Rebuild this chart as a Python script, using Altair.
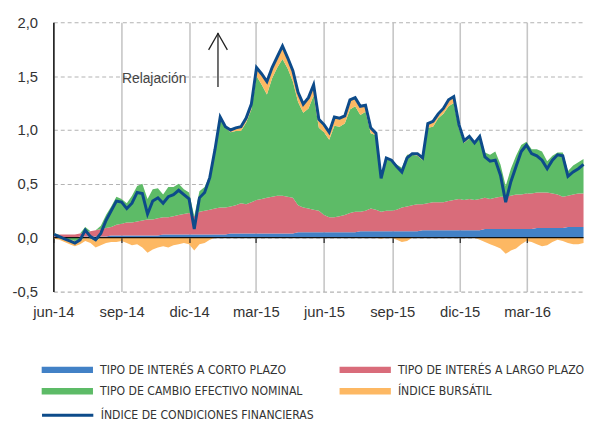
import altair as alt
import pandas as pd

n = 103
fechas = pd.date_range("2014-06-02", periods=n, freq="7D")

corto = [
    0.00, 0.00, 0.00, 0.00, 0.00, 0.01, 0.01, 0.01, 0.01, 0.01,
    0.01, 0.02, 0.02, 0.02, 0.02, 0.02, 0.02, 0.02, 0.02, 0.02,
    0.02, 0.03, 0.03, 0.03, 0.03, 0.03, 0.03, 0.03, 0.03, 0.03,
    0.03, 0.03, 0.03, 0.03, 0.04, 0.04, 0.04, 0.04, 0.04, 0.04,
    0.04, 0.04, 0.04, 0.04, 0.04, 0.04, 0.04, 0.05, 0.05, 0.05,
    0.05, 0.05, 0.05, 0.05, 0.05, 0.05, 0.05, 0.05, 0.05, 0.06,
    0.06, 0.06, 0.06, 0.06, 0.06, 0.06, 0.06, 0.06, 0.06, 0.06,
    0.06, 0.07, 0.07, 0.07, 0.07, 0.07, 0.07, 0.07, 0.07, 0.07,
    0.07, 0.07, 0.07, 0.08, 0.08, 0.08, 0.08, 0.08, 0.08, 0.08,
    0.08, 0.08, 0.08, 0.09, 0.09, 0.09, 0.09, 0.09, 0.09, 0.10,
    0.10, 0.10, 0.10,
]
largo = [
    0.02, 0.03, 0.03, 0.03, 0.03, 0.03, 0.04, 0.05, 0.06, 0.07,
    0.08, 0.08, 0.10, 0.11, 0.12, 0.12, 0.13, 0.14, 0.15, 0.15,
    0.16, 0.16, 0.16, 0.17, 0.18, 0.19, 0.20, 0.17, 0.21, 0.22,
    0.23, 0.24, 0.25, 0.25, 0.25, 0.26, 0.28, 0.27, 0.29, 0.31,
    0.32, 0.33, 0.34, 0.35, 0.35, 0.34, 0.33, 0.25, 0.23, 0.22,
    0.21, 0.20, 0.16, 0.14, 0.14, 0.15, 0.16, 0.18, 0.19, 0.18,
    0.19, 0.21, 0.20, 0.18, 0.19, 0.19, 0.20, 0.22, 0.23, 0.24,
    0.25, 0.24, 0.25, 0.26, 0.26, 0.26, 0.27, 0.28, 0.29, 0.28,
    0.29, 0.28, 0.29, 0.29, 0.28, 0.29, 0.30, 0.30, 0.31, 0.32,
    0.32, 0.33, 0.33, 0.33, 0.33, 0.33, 0.32, 0.31, 0.29, 0.29,
    0.30, 0.31, 0.31,
]
cambio = [
    0.02, 0.00, -0.01, -0.02, -0.03, -0.02, 0.05, -0.01, -0.03, 0.03,
    0.12, 0.19, 0.26, 0.23, 0.18, 0.25, 0.33, 0.34, 0.19, 0.28,
    0.28, 0.21, 0.28, 0.27, 0.29, 0.23, 0.19, 0.00, 0.19, 0.22,
    0.32, 0.55, 0.84, 0.74, 0.69, 0.69, 0.67, 0.76, 0.86, 1.15,
    1.06, 0.96, 1.10, 1.19, 1.27, 1.19, 1.08, 0.96, 0.88, 0.93,
    1.06, 0.77, 0.77, 0.72, 0.85, 0.83, 0.85, 0.96, 0.98, 0.90,
    0.92, 0.70, 0.69, 0.32, 0.48, 0.46, 0.42, 0.37, 0.48, 0.47,
    0.45, 0.41, 0.70, 0.70, 0.78, 0.82, 0.88, 0.90, 0.65, 0.53,
    0.56, 0.52, 0.60, 0.42, 0.41, 0.43, 0.30, 0.10, 0.25, 0.36,
    0.46, 0.48, 0.41, 0.40, 0.38, 0.29, 0.35, 0.39, 0.41, 0.23,
    0.27, 0.29, 0.32,
]
bursatil = [
    -0.01, -0.02, -0.03, -0.04, -0.05, -0.04, -0.03, -0.04, -0.06, -0.07,
    -0.05, -0.04, -0.04, -0.03, -0.05, -0.07, -0.06, -0.09, -0.14, -0.11,
    -0.09, -0.08, -0.09, -0.07, -0.06, -0.05, -0.06, -0.12, -0.06, -0.05,
    -0.02, 0.00, 0.00, 0.01, 0.02, 0.03, 0.04, 0.04, 0.05, 0.08,
    0.10, 0.12, 0.10, 0.10, 0.12, 0.10, 0.10, 0.09, 0.08, 0.10,
    0.10, 0.08, 0.07, 0.07, 0.08, 0.08, 0.07, 0.09, 0.08, 0.08,
    0.06, 0.05, 0.02, -0.01, 0.01, 0.01, -0.02, -0.04, -0.03, 0.01,
    0.02, 0.02, 0.04, 0.05, 0.04, 0.05, 0.06, 0.06, 0.04, 0.02,
    0.02, 0.01, -0.02, -0.04, -0.06, -0.08, -0.10, -0.15, -0.12, -0.10,
    -0.06, -0.03, -0.04, -0.06, -0.08, -0.07, -0.04, -0.02, -0.03, -0.05,
    -0.06, -0.06, -0.05,
]
assert len(corto) == len(largo) == len(cambio) == len(bursatil) == n

S_CORTO = "TIPO DE INTERÉS A CORTO PLAZO"
S_LARGO = "TIPO DE INTERÉS A LARGO PLAZO"
S_CAMBIO = "TIPO DE CAMBIO EFECTIVO NOMINAL"
S_BURS = "ÍNDICE BURSÁTIL"
# orden de la leyenda (se rellena por columnas)
leyenda_orden = [S_CORTO, S_CAMBIO, S_LARGO, S_BURS]
leyenda_colores = ["#4281c6", "#5dbb67", "#d96c7a", "#fdb863"]
indice_nombre = "ÍNDICE DE CONDICIONES FINANCIERAS"
indice_color = "#0d4b8a"

trimestres = [(2014, 6), (2014, 9), (2014, 12), (2015, 3), (2015, 6),
              (2015, 9), (2015, 12), (2016, 3)]
y_ticks = [-0.5, 0.0, 0.5, 1.0, 1.5, 2.0]

texto_anot = "Relajación"
texto_fecha = "2014-10-15"
texto_valor = 1.47
flecha_fecha = "2015-01-09"
flecha_desde, flecha_hasta, flecha_punta = 1.40, 1.90, 1.82

# tabla larga para las áreas apiladas (parte positiva y negativa por separado)
rows = []
for i, d in enumerate(fechas):
    b, r, g, o = corto[i], largo[i], cambio[i], bursatil[i]
    gp, gn = max(g, 0), min(g, 0)
    op, on = max(o, 0), min(o, 0)
    rows += [
        (d, S_CORTO, "b", 0.0, b),
        (d, S_LARGO, "r", b, b + r),
        (d, S_CAMBIO, "gp", b + r, b + r + gp),
        (d, S_BURS, "op", b + r + gp, b + r + gp + op),
        (d, S_CAMBIO, "gn", 0.0, gn),
        (d, S_BURS, "on", gn, gn + on),
    ]
areas_df = pd.DataFrame(rows, columns=["fecha", "serie", "parte", "lo", "hi"])
linea_df = pd.DataFrame({
    "fecha": fechas,
    "serie": indice_nombre,
    "valor": [corto[i] + largo[i] + cambio[i] + bursatil[i] for i in range(n)],
})
texto_df = pd.DataFrame({"fecha": [pd.Timestamp(texto_fecha)], "valor": [texto_valor], "texto": [texto_anot]})
flecha_df = pd.DataFrame({"fecha": [pd.Timestamp(flecha_fecha)], "desde": [flecha_desde],
                          "hasta": [flecha_hasta], "punta": [flecha_punta]})

FONT = "Liberation Sans, Arial, sans-serif"
NARROW = "DejaVu Sans Condensed, sans-serif"

x_scale = alt.Scale(domain=[alt.DateTime(year=2014, month=6, date=1),
                            alt.DateTime(year=2016, month=5, date=18)])
y_scale = alt.Scale(domain=[-0.5, 2.0], nice=False, zero=False)
tick_vals = [alt.DateTime(year=a, month=m, date=1) for a, m in trimestres]

meses = "['ene','feb','mar','abr','may','jun','jul','ago','sep','oct','nov','dic']"
x_axis_main = alt.Axis(
    values=tick_vals, orient="bottom", title=None,
    labelExpr=meses + "[month(datum.value)] + '-' + timeFormat(datum.value, '%y')",
    grid=True, gridColor="#c6c6c6", gridWidth=1.6, domain=False, ticks=False,
    labelFont=FONT, labelFontSize=15, labelColor="#333333", labelPadding=13,
    labelFlush=False, labelOverlap=False,
)
x_axis_zero = alt.Axis(
    values=tick_vals, orient="bottom", title=None, offset=-54.6,
    labels=False, grid=False, domain=False, ticks=True, tickColor="#222222",
    tickSize=5, tickWidth=1.2, zindex=1,
)
y_axis = alt.Axis(
    values=y_ticks, title=None,
    labelExpr="replace(replace(format(datum.value, '.1f'), '.', ','), '\u2212', '-')",
    grid=True, gridDash=[4, 3], gridColor="#b3b3b3", gridWidth=1.2,
    domain=True, domainColor="#111111", domainWidth=1.5, ticks=False,
    labelFont=FONT, labelFontSize=15, labelColor="#333333", labelPadding=16,
    labelFlush=False,
)

fill_legend = alt.Legend(
    title=None, orient="none", legendX=-13, legendY=346, columns=2,
    columnPadding=36, rowPadding=9, padding=0,
    symbolType="M-1,-0.65L9.4,-0.65L9.4,0.65L-1,0.65Z", symbolSize=100,
    symbolStrokeWidth=0, symbolOpacity=1,
    labelFont=NARROW, labelFontSize=12.3, labelColor="#333333", labelOffset=48,
    labelLimit=400,
)
line_legend = alt.Legend(
    title=None, orient="none", legendX=-13, legendY=392, padding=0,
    symbolType="M-1,0L9.4,0", symbolSize=100, symbolStrokeWidth=3,
    labelFont=NARROW, labelFontSize=12.3, labelColor="#333333", labelOffset=48,
    labelLimit=400,
)

areas = alt.Chart(areas_df).mark_area(opacity=1, interpolate="linear").encode(
    x=alt.X("fecha:T", scale=x_scale, axis=x_axis_main),
    y=alt.Y("lo:Q", scale=y_scale, axis=y_axis),
    y2="hi:Q",
    fill=alt.Fill("serie:N", scale=alt.Scale(domain=leyenda_orden, range=leyenda_colores),
                  legend=fill_legend),
    detail="parte:N",
)

cero = alt.Chart(linea_df).mark_line(color="#111111", strokeWidth=1.3).encode(
    x=alt.X("fecha:T", scale=x_scale, axis=x_axis_zero),
    y=alt.YDatum(0, scale=y_scale, title=None),
)

linea = alt.Chart(linea_df).mark_line(strokeWidth=3).encode(
    x=alt.X("fecha:T", scale=x_scale, axis=None),
    y=alt.Y("valor:Q", scale=y_scale, title=None),
    stroke=alt.Stroke("serie:N", scale=alt.Scale(domain=[indice_nombre], range=[indice_color]),
                      legend=line_legend),
)

regla = alt.Chart(flecha_df).mark_rule(color="#222222", strokeWidth=1.3).encode(
    x=alt.X("fecha:T", scale=x_scale, axis=None),
    y=alt.Y("desde:Q", scale=y_scale, title=None),
    y2="hasta:Q",
)
punta = alt.Chart(flecha_df).mark_point(
    shape="M-1,0.87L0,-0.87L1,0.87", filled=False, color="#222222",
    strokeWidth=1.3, size=361, opacity=1,
).encode(
    x=alt.X("fecha:T", scale=x_scale, axis=None),
    y=alt.Y("punta:Q", scale=y_scale, title=None),
)
texto = alt.Chart(texto_df).mark_text(font=FONT, fontSize=14, color="#444444").encode(
    x=alt.X("fecha:T", scale=x_scale, axis=None),
    y=alt.Y("valor:Q", scale=y_scale, title=None),
    text="texto:N",
)

chart = alt.layer(areas, cero, linea, regla, punta, texto).resolve_axis(
    x="independent"
).properties(
    width=539, height=273,
    padding={"left": 46, "top": 11.6, "right": 1, "bottom": 130},
    autosize="none",
).configure_view(stroke=None)

chart.save("out.html", embed_options={"renderer": "svg", "actions": False})
